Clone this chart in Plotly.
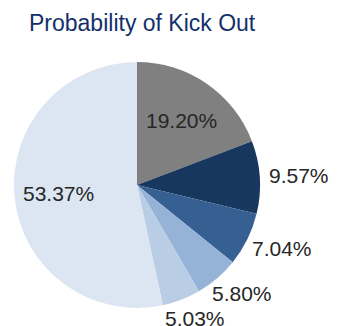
import math
import plotly.graph_objects as go

labels = ["A", "B", "C", "D", "E", "F"]
values = [19.20, 9.57, 7.04, 5.80, 5.03, 53.37]
text_labels = ["19.20%", "9.57%", "7.04%", "5.80%", "5.03%", "53.37%"]
colors = ["#808080", "#17375e", "#376092", "#95b3d7", "#b9cde5", "#dce6f2"]
positions = ["inside", "outside", "outside", "outside", "outside", "inside"]

W, H = 342, 326
dom_x = [14 / W, 260 / W]
dom_y = [18 / H, 264 / H]
FONT = "Liberation Sans, Arial, Helvetica, sans-serif"
FS = 21

fig = go.Figure(go.Pie(
    labels=labels,
    values=values,
    textinfo="none",
    sort=False,
    direction="clockwise",
    rotation=0,
    marker=dict(colors=colors, line=dict(width=0)),
    domain=dict(x=dom_x, y=dom_y),
    hoverinfo="skip",
    showlegend=False,
))

# label placement derived from pie geometry and slice values
cx = (dom_x[0] + dom_x[1]) / 2 * W
cy = (1 - (dom_y[0] + dom_y[1]) / 2) * H
r = min((dom_x[1] - dom_x[0]) * W, (dom_y[1] - dom_y[0]) * H) / 2
total = sum(values)
annotations = []
cum = 0.0
for v, t, pos in zip(values, text_labels, positions):
    mid = (cum + v / 2) / total * 2 * math.pi
    cum += v
    s, c = math.sin(mid), math.cos(mid)
    if pos == "inside":
        d = 0.64 * r
        px, py = cx + d * s, cy - d * c
    else:
        d = r + 10
        tw, th = 0.55 * FS * len(t), FS
        px = cx + d * s + tw / 2 * s
        py = cy - d * c - th / 2 * c
    py = min(py, H - 8)
    annotations.append(dict(
        text=t, x=px / W, y=1 - py / H, xref="paper", yref="paper",
        xanchor="center", yanchor="middle", showarrow=False,
        font=dict(family=FONT, size=FS, color="#262626"),
    ))

annotations.append(dict(
    text="Probability of Kick Out", x=27 / W, y=1 - 23 / H,
    xref="paper", yref="paper", xanchor="left", yanchor="middle",
    showarrow=False,
    font=dict(family=FONT, size=23, color="#13306b"),
))

fig.update_layout(
    width=W, height=H,
    margin=dict(l=0, r=0, t=0, b=0),
    paper_bgcolor="white",
    plot_bgcolor="white",
    annotations=annotations,
)

fig.write_html("out.html")
